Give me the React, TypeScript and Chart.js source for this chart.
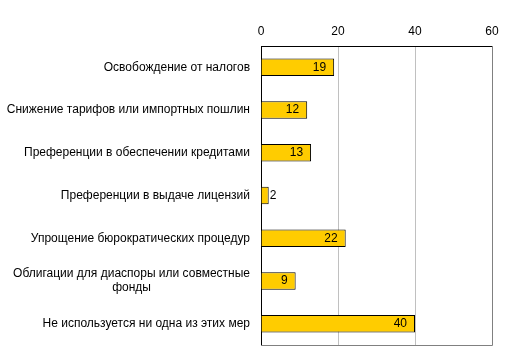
import React, { useEffect, useRef } from 'react';
import { Chart, registerables } from 'chart.js';

Chart.register(...registerables);

const categories: string[][] = [
  ['Освобождение от налогов'],
  ['Снижение тарифов или импортных пошлин'],
  ['Преференции в обеспечении кредитами'],
  ['Преференции в выдаче лицензий'],
  ['Упрощение бюрократических процедур'],
  ['Облигации для диаспоры или совместные', 'фонды'],
  ['Не используется ни одна из этих мер'],
];
const values = [19, 12, 13, 2, 22, 9, 40];
const xMin = 0;
const xMax = 60;
const xStep = 20;

const FONT = "Arial, 'Liberation Sans', sans-serif";

const customPlugin = {
  id: 'customDraw',
  afterDraw(chart: any) {
    const ctx = chart.ctx as CanvasRenderingContext2D;
    const area = chart.chartArea;
    const yScale = chart.scales.y;
    ctx.save();
    // plot border right & bottom
    ctx.strokeStyle = '#808080';
    ctx.lineWidth = 1;
    ctx.beginPath();
    ctx.moveTo(Math.round(area.right) + 0.5, Math.round(area.top));
    ctx.lineTo(Math.round(area.right) + 0.5, Math.round(area.bottom) + 0.5);
    ctx.lineTo(Math.round(area.left), Math.round(area.bottom) + 0.5);
    ctx.stroke();

    // category labels
    ctx.font = `12px ${FONT}`;
    ctx.fillStyle = '#000000';
    ctx.textBaseline = 'middle';
    const rightEdge = area.left - 11;
    categories.forEach((lines, i) => {
      const cy = yScale.getPixelForValue(i);
      const lh = 14;
      const widths = lines.map((l) => ctx.measureText(l).width);
      const maxW = Math.max(...widths);
      const center = rightEdge - maxW / 2;
      lines.forEach((l, j) => {
        const y = cy + (j - (lines.length - 1) / 2) * lh;
        ctx.textAlign = lines.length > 1 ? 'center' : 'right';
        ctx.fillText(l, lines.length > 1 ? center : rightEdge, y);
      });
    });

    // data labels
    const meta = chart.getDatasetMeta(0);
    meta.data.forEach((bar: any, i: number) => {
      const txt = String(values[i]);
      const w = ctx.measureText(txt).width;
      const barW = bar.x - bar.base;
      if (w + 12 > barW) {
        ctx.textAlign = 'left';
        ctx.fillText(txt, bar.x + 1, bar.y);
      } else {
        ctx.textAlign = 'right';
        ctx.fillText(txt, bar.x - 8, bar.y);
      }
    });
    ctx.restore();
  },
};

export default function App() {
  const ref = useRef<HTMLCanvasElement | null>(null);
  useEffect(() => {
    if (!ref.current) return;
    const chart = new Chart(ref.current, {
      type: 'bar',
      data: {
        labels: categories.map((c) => c.join(' ')),
        datasets: [
          {
            data: values,
            backgroundColor: '#FFCC00',
            borderColor: '#000000',
            borderWidth: 1,
            borderSkipped: 'start',
            barPercentage: 0.41,
            categoryPercentage: 1,
          },
        ],
      },
      options: {
        indexAxis: 'y',
        responsive: false,
        animation: false,
        devicePixelRatio: 1,
        layout: { padding: { left: 261, right: 25, top: 0, bottom: 15 } },
        plugins: {
          legend: { display: false },
          tooltip: { enabled: false },
        },
        scales: {
          x: {
            position: 'top',
            min: xMin,
            max: xMax,
            ticks: {
              stepSize: xStep,
              color: '#000000',
              font: { size: 12, family: FONT },
              padding: 7,
            },
            grid: { color: '#c0c0c0', drawTicks: false },
            border: { color: '#000000', width: 1 },
            afterFit: (s: any) => {
              s.height = 46;
            },
          },
          y: {
            ticks: { display: false },
            grid: { display: false, drawTicks: false },
            border: { color: '#000000', width: 1 },
            afterFit: (s: any) => {
              s.width = 0;
            },
          },
        },
      },
      plugins: [customPlugin],
    } as any);
    return () => chart.destroy();
  }, []);
  return (
    <div style={{ position: 'fixed', left: 0, top: 0, width: 517, height: 360, background: '#fff' }}>
      <canvas ref={ref} width={517} height={360} style={{ display: 'block' }} />
    </div>
  );
}
